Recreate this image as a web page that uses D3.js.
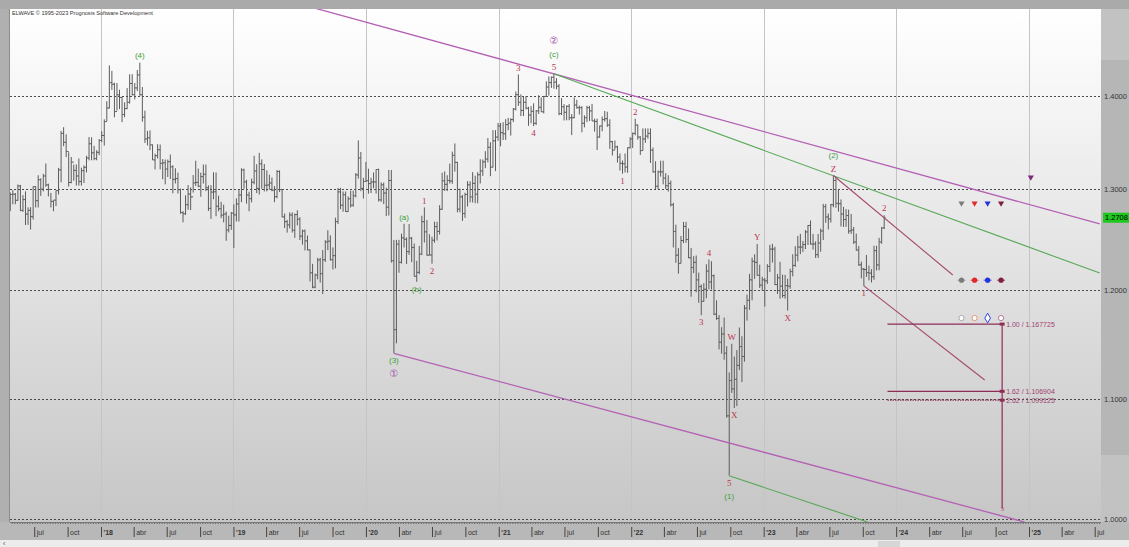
<!DOCTYPE html>
<html><head><meta charset="utf-8">
<script src="https://cdn.jsdelivr.net/npm/d3@7"></script>
<style>html,body{margin:0;padding:0;background:#e8e8e8;overflow:hidden}svg{display:block}</style>
</head><body>
<svg id="c" width="1129" height="547"></svg>
<script>
// ---------------- DATA (weekly GBP/USD bars: [high, low, close]) ----------------
const firstWeek = "2017-04-24";
const firstOpen = 1.2825;
const bars2017 = [
[1.2966,1.2775,1.2945],[1.2990,1.2844,1.2948],[1.2960,1.2845,1.2885],[1.3048,1.2880,1.3033],[1.3044,1.2774,1.2783],[1.2938,1.2767,1.2893],
[1.2977,1.2635,1.2745],[1.2813,1.2636,1.2783],[1.2815,1.2589,1.2719],[1.3029,1.2690,1.3026],
[1.3032,1.2812,1.2881],[1.3145,1.2812,1.3098],[1.3113,1.2931,1.3000],[1.3160,1.2977,1.3137],[1.3268,1.3025,1.3044],
[1.3057,1.2925,1.2997],[1.2961,1.2812,1.2875],[1.2883,1.2774,1.2887],[1.2985,1.2826,1.2985],
[1.3222,1.2945,1.3201],[1.3617,1.3071,1.3590],[1.3657,1.3452,1.3494],[1.3580,1.3336,1.3395],
[1.3387,1.3027,1.3069],[1.3337,1.3061,1.3283],[1.3257,1.3088,1.3196],[1.3258,1.3038,1.3137],[1.3321,1.3037,1.3080],
[1.3224,1.3037,1.3193],[1.3248,1.3064,1.3228],[1.3351,1.3174,1.3326],[1.3550,1.3301,1.3478],
[1.3548,1.3302,1.3381],[1.3456,1.3302,1.3320],[1.3409,1.3302,1.3387],[1.3529,1.3356,1.3513]
];
const bars2018 = [
[1.3613,1.3495,1.3567],[1.3743,1.3458,1.3718],[1.3943,1.3720,1.3867],[1.4345,1.3862,1.4150],[1.4283,1.4068,1.4132],
[1.4148,1.3765,1.3828],[1.4145,1.3838,1.4013],[1.4070,1.3855,1.3984],[1.3990,1.3712,1.3795],
[1.3930,1.3765,1.3860],[1.4088,1.3855,1.3930],[1.4244,1.3915,1.4140],[1.4245,1.4005,1.4015],
[1.4146,1.3962,1.4090],[1.4292,1.4055,1.4237],[1.4377,1.4003,1.4014],[1.4100,1.3716,1.3766],[1.3838,1.3487,1.3530],
[1.3617,1.3460,1.3543],[1.3622,1.3410,1.3466],[1.3471,1.3306,1.3306],[1.3372,1.3205,1.3351],
[1.3473,1.3321,1.3414],[1.3470,1.3206,1.3270],[1.3315,1.3102,1.3275],[1.3310,1.3050,1.3210],
[1.3310,1.3126,1.3287],[1.3363,1.3105,1.3233],[1.3250,1.2957,1.3102],[1.3218,1.3059,1.3110],[1.3172,1.2956,1.2995],
[1.3006,1.2749,1.2760],[1.2775,1.2662,1.2748],[1.2937,1.2737,1.2840],[1.3042,1.2789,1.2950],
[1.3018,1.2786,1.2920],[1.3147,1.2965,1.3065],[1.3298,1.3033,1.3070],[1.3214,1.3021,1.3030],
[1.3172,1.2922,1.3130],[1.3258,1.3058,1.3155],[1.3257,1.2980,1.3015],[1.3040,1.2776,1.2803],[1.3042,1.2696,1.2970],
[1.3176,1.2896,1.2973],[1.3174,1.2723,1.2825],[1.2932,1.2773,1.2799],[1.2869,1.2704,1.2734],
[1.2841,1.2660,1.2745],[1.2770,1.2477,1.2584],[1.2728,1.2560,1.2630],[1.2766,1.2585,1.2754],[1.2843,1.2405,1.2737]
];
const bars2019 = [
[1.2905,1.2670,1.2848],[1.3000,1.2670,1.2940],[1.3218,1.2866,1.3200],[1.3215,1.3005,1.3075],
[1.3097,1.2851,1.2940],[1.2974,1.2773,1.2902],[1.3110,1.2863,1.3072],[1.3350,1.3050,1.3190],
[1.3260,1.2960,1.3008],[1.3381,1.2944,1.3265],[1.3312,1.3003,1.3205],[1.3262,1.2977,1.3040],
[1.3196,1.2977,1.3043],[1.3150,1.2995,1.3064],[1.3121,1.2978,1.2990],[1.3032,1.2866,1.2922],[1.3200,1.2906,1.3183],
[1.3196,1.2970,1.2996],[1.3000,1.2712,1.2716],[1.2750,1.2605,1.2668],[1.2686,1.2558,1.2636],
[1.2762,1.2600,1.2735],[1.2763,1.2559,1.2582],[1.2750,1.2506,1.2740],[1.2784,1.2631,1.2693],
[1.2713,1.2485,1.2523],[1.2589,1.2439,1.2574],[1.2590,1.2382,1.2476],[1.2529,1.2383,1.2386],[1.2392,1.2080,1.2163],
[1.2250,1.2015,1.2025],[1.2155,1.2015,1.2142],[1.2309,1.2100,1.2288],[1.2310,1.2069,1.2155],
[1.2385,1.1959,1.2290],[1.2483,1.2269,1.2465],[1.2582,1.2384,1.2473],[1.2531,1.2283,1.2290],[1.2411,1.2195,1.2330],
[1.2708,1.2206,1.2669],[1.3013,1.2645,1.2972],[1.3013,1.2795,1.2835],[1.2977,1.2769,1.2942],
[1.2976,1.2768,1.2770],[1.2925,1.2768,1.2900],[1.2984,1.2811,1.2835],[1.2985,1.2820,1.2932],
[1.3168,1.2915,1.3148],[1.3514,1.3108,1.3327],[1.3390,1.2979,1.3008],[1.3118,1.2903,1.3080],[1.3285,1.3080,1.3087]
];
const bars2020 = [
[1.3213,1.2954,1.3058],[1.3119,1.2960,1.3074],[1.3174,1.3009,1.3075],[1.3207,1.2954,1.3205],
[1.3214,1.2873,1.2890],[1.3070,1.2870,1.3045],[1.3069,1.2847,1.2960],[1.3016,1.2725,1.2815],
[1.3200,1.2730,1.3090],[1.3200,1.2262,1.2280],[1.2485,1.1409,1.1625],[1.2486,1.1500,1.2444],[1.2486,1.2164,1.2265],
[1.2548,1.2253,1.2506],[1.2647,1.2411,1.2492],[1.2510,1.2248,1.2370],[1.2644,1.2338,1.2503],
[1.2515,1.2266,1.2410],[1.2450,1.2127,1.2130],[1.2280,1.2076,1.2168],[1.2426,1.2150,1.2346],
[1.2728,1.2336,1.2668],[1.2813,1.2460,1.2566],[1.2686,1.2330,1.2335],[1.2542,1.2335,1.2337],[1.2518,1.2252,1.2483],
[1.2669,1.2458,1.2618],[1.2667,1.2480,1.2570],[1.2835,1.2539,1.2794],[1.3171,1.2788,1.3087],
[1.3185,1.2981,1.3050],[1.3145,1.2980,1.3090],[1.3267,1.3058,1.3085],[1.3394,1.3056,1.3354],[1.3482,1.3183,1.3280],
[1.3286,1.2763,1.2795],[1.3007,1.2762,1.2920],[1.2941,1.2676,1.2750],[1.2963,1.2707,1.2945],
[1.3083,1.2822,1.3045],[1.3082,1.2864,1.2920],[1.3177,1.2863,1.3060],[1.3140,1.2855,1.2948],
[1.3177,1.2855,1.3150],[1.3313,1.3059,1.3190],[1.3310,1.3138,1.3285],[1.3399,1.3219,1.3315],[1.3539,1.3279,1.3440],
[1.3495,1.3135,1.3230],[1.3625,1.3226,1.3510],[1.3625,1.3188,1.3550],[1.3703,1.3510,1.3670]
];
const bars2021 = [
[1.3703,1.3451,1.3597],[1.3711,1.3518,1.3585],[1.3745,1.3520,1.3685],[1.3758,1.3624,1.3700],
[1.3755,1.3566,1.3740],[1.3867,1.3712,1.3855],[1.4050,1.3840,1.4015],[1.4241,1.3890,1.3930],
[1.4018,1.3778,1.3840],[1.3990,1.3778,1.3930],[1.4000,1.3851,1.3865],[1.3880,1.3672,1.3790],[1.3888,1.3700,1.3830],
[1.3919,1.3669,1.3700],[1.3845,1.3680,1.3835],[1.4009,1.3801,1.3875],[1.3984,1.3823,1.3825],
[1.4000,1.3807,1.3995],[1.4165,1.3990,1.4100],[1.4220,1.4005,1.4150],[1.4219,1.4090,1.4210],[1.4250,1.4082,1.4155],
[1.4200,1.4075,1.4110],[1.4134,1.3787,1.3805],[1.3976,1.3790,1.3880],[1.3910,1.3730,1.3820],
[1.3896,1.3732,1.3885],[1.3911,1.3733,1.3760],[1.3800,1.3572,1.3760],[1.3984,1.3755,1.3900],
[1.3958,1.3860,1.3870],[1.3895,1.3795,1.3870],[1.3888,1.3602,1.3700],[1.3787,1.3655,1.3760],[1.3892,1.3712,1.3870],
[1.3890,1.3725,1.3835],[1.3912,1.3725,1.3725],[1.3750,1.3609,1.3720],[1.3750,1.3411,1.3550],
[1.3674,1.3543,1.3670],[1.3773,1.3612,1.3740],[1.3834,1.3717,1.3750],[1.3826,1.3660,1.3680],
[1.3743,1.3424,1.3500],[1.3510,1.3353,1.3410],[1.3513,1.3415,1.3445],[1.3457,1.3278,1.3335],[1.3374,1.3194,1.3270],
[1.3300,1.3161,1.3265],[1.3375,1.3174,1.3230],[1.3439,1.3171,1.3435],[1.3548,1.3427,1.3530]
];
const bars2022 = [
[1.3599,1.3433,1.3590],[1.3749,1.3569,1.3680],[1.3686,1.3522,1.3550],[1.3560,1.3358,1.3405],[1.3644,1.3404,1.3530],
[1.3644,1.3488,1.3560],[1.3644,1.3532,1.3590],[1.3644,1.3274,1.3410],[1.3438,1.3173,1.3180],
[1.3292,1.3000,1.3030],[1.3195,1.3001,1.3180],[1.3298,1.3131,1.3180],[1.3298,1.3050,1.3115],
[1.3166,1.3001,1.3035],[1.3145,1.2975,1.3060],[1.3090,1.2821,1.2840],[1.2860,1.2411,1.2570],
[1.2638,1.2260,1.2335],[1.2405,1.2155,1.2255],[1.2525,1.2255,1.2480],[1.2666,1.2454,1.2620],[1.2666,1.2458,1.2490],
[1.2600,1.2305,1.2310],[1.2406,1.1934,1.2215],[1.2325,1.2160,1.2265],[1.2332,1.1976,1.2095],
[1.2165,1.1876,1.2030],[1.2050,1.1760,1.1890],[1.2063,1.1887,1.2005],[1.2246,1.1919,1.2180],
[1.2293,1.2004,1.2075],[1.2276,1.2003,1.2135],[1.2147,1.1760,1.1770],[1.1900,1.1717,1.1730],[1.1762,1.1444,1.1510],
[1.1648,1.1405,1.1585],[1.1738,1.1351,1.1410],[1.1474,1.0840,1.0855],[1.1237,1.0350,1.1165],
[1.1495,1.1055,1.1090],[1.1380,1.0924,1.1175],[1.1438,1.0940,1.1300],[1.1645,1.1257,1.1470],[1.1565,1.1151,1.1380],
[1.1855,1.1333,1.1825],[1.1954,1.1709,1.1900],[1.2153,1.1810,1.2095],[1.2311,1.1900,1.2275],
[1.2344,1.2105,1.2265],[1.2446,1.2135,1.2140],[1.2242,1.2018,1.2045],[1.2125,1.1990,1.2095]
];
const bars2023 = [
[1.2114,1.1841,1.2085],[1.2247,1.2056,1.2225],[1.2436,1.2170,1.2395],[1.2447,1.2263,1.2395],[1.2418,1.2045,1.2050],
[1.2152,1.1960,1.2115],[1.2270,1.1915,1.2035],[1.2146,1.1925,1.1945],[1.2143,1.1915,1.2040],
[1.2106,1.1803,1.2035],[1.2203,1.2010,1.2175],[1.2344,1.2129,1.2235],[1.2424,1.2220,1.2335],
[1.2525,1.2275,1.2415],[1.2546,1.2345,1.2415],[1.2475,1.2367,1.2440],[1.2584,1.2395,1.2565],
[1.2635,1.2435,1.2630],[1.2680,1.2440,1.2445],[1.2545,1.2390,1.2445],[1.2472,1.2308,1.2340],[1.2545,1.2308,1.2455],
[1.2599,1.2369,1.2575],[1.2848,1.2485,1.2820],[1.2848,1.2657,1.2715],[1.2750,1.2590,1.2695],
[1.2849,1.2658,1.2840],[1.3142,1.2814,1.3090],[1.3125,1.2809,1.2855],[1.3000,1.2770,1.2850],[1.2894,1.2620,1.2745],
[1.2818,1.2615,1.2690],[1.2795,1.2616,1.2730],[1.2790,1.2548,1.2575],[1.2746,1.2545,1.2585],
[1.2615,1.2446,1.2465],[1.2548,1.2379,1.2385],[1.2425,1.2231,1.2240],[1.2271,1.2110,1.2200],
[1.2210,1.2037,1.2195],[1.2337,1.2123,1.2165],[1.2233,1.2090,1.2160],[1.2199,1.2070,1.2125],[1.2428,1.2096,1.2380],
[1.2428,1.2187,1.2240],[1.2506,1.2188,1.2465],[1.2614,1.2447,1.2605],[1.2733,1.2594,1.2708]
];

const priceTicks = [1.0, 1.1, 1.2, 1.3, 1.4];
const lastPrice = 1.2708;
const monthTickNames = {3: "abr", 6: "jul", 9: "oct"};
const copyrightText = "ELWAVE \u00A9 1995-2023 Prognosis Software Development";

// wave labels: anchored at a bar's high (above) or low (below); level = stacking order
const waveLabels = [
  {text:"(4)", week:"2018-04-16", price:1.4377, side:"above", level:1, kind:"green"},
  {text:"(3)", week:"2020-03-16", price:1.1409, side:"below", level:1, kind:"green"},
  {text:"\u2460", week:"2020-03-16", price:1.1409, side:"below", level:2, kind:"purple"},
  {text:"(a)", week:"2020-04-13", price:1.2647, side:"above", level:1, kind:"green"},
  {text:"(b)", week:"2020-05-18", price:1.2076, side:"below", level:1, kind:"green"},
  {text:"1", week:"2020-06-08", price:1.2813, side:"above", level:1, kind:"red"},
  {text:"2", week:"2020-06-29", price:1.2252, side:"below", level:1, kind:"red"},
  {text:"3", week:"2021-02-22", price:1.4241, side:"above", level:1, kind:"red"},
  {text:"4", week:"2021-04-05", price:1.3669, side:"below", level:1, kind:"red"},
  {text:"5", week:"2021-05-31", price:1.4250, side:"above", level:1, kind:"red"},
  {text:"(c)", week:"2021-05-31", price:1.4250, side:"above", level:2, kind:"green"},
  {text:"\u2461", week:"2021-05-31", price:1.4250, side:"above", level:3, kind:"purple"},
  {text:"1", week:"2021-12-06", price:1.3161, side:"below", level:1, kind:"red"},
  {text:"2", week:"2022-01-10", price:1.3749, side:"above", level:1, kind:"red"},
  {text:"3", week:"2022-07-11", price:1.1760, side:"below", level:1, kind:"red"},
  {text:"4", week:"2022-08-01", price:1.2293, side:"above", level:1, kind:"red"},
  {text:"5", week:"2022-09-26", price:1.0350, side:"below", level:1, kind:"red"},
  {text:"(1)", week:"2022-09-26", price:1.0350, side:"below", level:2, kind:"green"},
  {text:"W", week:"2022-10-03", price:1.1495, side:"above", level:1, kind:"red"},
  {text:"X", week:"2022-10-10", price:1.0924, side:"below", level:1, kind:"red"},
  {text:"Y", week:"2022-12-12", price:1.2446, side:"above", level:1, kind:"red"},
  {text:"X", week:"2023-03-06", price:1.1803, side:"below", level:1, kind:"red"},
  {text:"Z", week:"2023-07-10", price:1.3142, side:"above", level:1, kind:"red"},
  {text:"(2)", week:"2023-07-10", price:1.3142, side:"above", level:2, kind:"green"},
  {text:"1", week:"2023-10-02", price:1.2037, side:"below", level:1, kind:"red"},
  {text:"2", week:"2023-11-27", price:1.2733, side:"above", level:1, kind:"red"}
];

// trend / channel lines: two [date, price] points each
const trendLines = [
  {kind:"purple", pts:[["2019-08-12",1.5015],["2025-07-15",1.2645]]},
  {kind:"purple", pts:[["2020-03-18",1.1409],["2024-12-20",0.9976]]},
  {kind:"green",  pts:[["2021-06-02",1.4250],["2025-07-15",1.2161]]},
  {kind:"green",  pts:[["2022-09-28",1.0350],["2023-10-14",0.9976]]},
  {kind:"mauve",  pts:[["2023-07-12",1.3142],["2024-06-05",1.2142]]},
  {kind:"mauve",  pts:[["2023-10-04",1.2037],["2024-09-01",1.1169]]}
];

// Fibonacci projection of wave 3
const fibRatios = ["1.00", "1.62", "2.62"];
const fibPrices = [1.167725, 1.106904, 1.099125];
const fibFrom = "2023-12-08", fibTo = "2024-10-19";
const fibBottomPrice = 1.0085;

// target markers
const targetDates = ["2024-06-29", "2024-08-04", "2024-09-09", "2024-10-16"];
const targetRowPrices = [1.2855, 1.2092, 1.1733];
const extraTarget = {date:"2025-01-06", price:1.3124};

// ---------------- DRAWING ----------------
const W = 1129, H = 547;
const P = {l:10, r:1101, t:9, b:522};
const parse = d3.timeParse("%Y-%m-%d");
const svg = d3.select("#c");

const x = d3.scaleTime().domain([new Date(2018,0,1), new Date(2025,0,1)]).range([101, 1029]);
const y = d3.scaleLog().domain([1.0, 1.4]).range([519, 96]);
const tStart = x.invert(P.l), tEnd = x.invert(P.r);

const allHLC = [].concat(bars2017, bars2018, bars2019, bars2020, bars2021, bars2022, bars2023);
const start = parse(firstWeek);
const bars = allHLC.map((b, i) => ({
  date: d3.timeDay.offset(start, 7*i + 2),
  high: b[0], low: b[1], close: b[2],
  open: i === 0 ? firstOpen : allHLC[i-1][2]
}));
const barX = s => x(d3.timeDay.offset(parse(s), 2));

const defs = svg.append("defs");
const grad = defs.append("linearGradient").attr("id","bg").attr("x1",0).attr("y1",0).attr("x2",0).attr("y2",1);
grad.append("stop").attr("offset","0%").attr("stop-color","#ffffff");
grad.append("stop").attr("offset","100%").attr("stop-color","#c6c6c6");
defs.append("clipPath").attr("id","clip").append("rect")
  .attr("x",P.l).attr("y",P.t).attr("width",P.r-P.l).attr("height",P.b-P.t);

// frame
svg.append("rect").attr("width",W).attr("height",H).attr("fill","#b4b4b4");
svg.append("rect").attr("x",0).attr("y",0).attr("width",W).attr("height",P.t).attr("fill","#aaaaaa");
svg.append("rect").attr("x",0).attr("y",P.t).attr("width",P.l).attr("height",P.b-P.t).attr("fill","#b0b0b0");
svg.append("line").attr("x1",P.l-0.5).attr("x2",P.l-0.5).attr("y1",P.t).attr("y2",P.b).attr("stroke","#8c8c8c");
svg.append("rect").attr("x",P.l).attr("y",P.t).attr("width",P.r-P.l).attr("height",P.b-P.t).attr("fill","url(#bg)");
// right price panel
svg.append("rect").attr("x",P.r).attr("y",P.t).attr("width",W-P.r).attr("height",P.b-P.t).attr("fill","#b6b6b6");
svg.append("rect").attr("x",P.r).attr("y",P.t).attr("width",W-P.r).attr("height",51).attr("fill","#c2c2c2");
svg.append("rect").attr("x",P.r).attr("y",455).attr("width",W-P.r).attr("height",P.b-455).attr("fill","#c2c2c2");
// bottom axis band + status strip
svg.append("rect").attr("x",0).attr("y",P.b).attr("width",W).attr("height",540-P.b).attr("fill","#b8b8b8");
svg.append("rect").attr("x",0).attr("y",540).attr("width",W).attr("height",7).attr("fill","#ececec");
svg.append("rect").attr("x",878).attr("y",541).attr("width",22).attr("height",6).attr("fill","#d6d6d6");
svg.append("text").attr("x",3).attr("y",546).attr("font-size",7).attr("fill","#555")
  .attr("font-family","Liberation Sans, Arial, sans-serif").text("\u2039");

const plotG = svg.append("g").attr("clip-path","url(#clip)");

// vertical year lines
const years = d3.timeYear.range(tStart, tEnd);
plotG.selectAll("line.vy").data(years).join("line")
  .attr("x1",d=>Math.round(x(d))+0.5).attr("x2",d=>Math.round(x(d))+0.5)
  .attr("y1",P.t).attr("y2",P.b).attr("stroke","#c4c4c4").attr("stroke-width",1);

// horizontal price grid (dotted)
plotG.selectAll("line.hg").data(priceTicks).join("line")
  .attr("x1",P.l).attr("x2",P.r)
  .attr("y1",d=>Math.round(y(d))+0.5).attr("y2",d=>Math.round(y(d))+0.5)
  .attr("stroke","#4a4a4a").attr("stroke-width",1).attr("stroke-dasharray","2,2");

// OHLC bars
plotG.append("g").selectAll("path").data(bars).join("path")
  .attr("d", d => {
    const cx = x(d.date);
    return `M${cx},${y(d.high)}V${y(d.low)}M${cx-1.4},${y(d.open)}H${cx}M${cx},${y(d.close)}H${cx+1.4}`;
  })
  .attr("fill","none").attr("stroke","#5c5c5c").attr("stroke-width",1);

// trend lines
const lineColors = {purple:"#b462b4", green:"#58a858", mauve:"#a54a70"};
const lineGen = d3.line().x(p => x(parse(p[0]))).y(p => y(p[1]));
plotG.selectAll("path.tl").data(trendLines).join("path")
  .attr("d", d => lineGen(d.pts))
  .attr("fill","none").attr("stroke", d => lineColors[d.kind])
  .attr("stroke-width", d => d.kind === "purple" ? 1.3 : 1.1);

// fib projection
const fibColor = "#8e2c55";
const fx1 = x(parse(fibFrom)), fx2 = x(parse(fibTo));
plotG.selectAll("line.fib").data(fibPrices).join("line")
  .attr("x1",fx1).attr("x2",fx2).attr("y1",d=>y(d)).attr("y2",d=>y(d))
  .attr("stroke",fibColor).attr("stroke-width",1.2)
  .attr("stroke-dasharray",(d,i)=> i===2 ? "1.5,1" : null);
plotG.append("line").attr("x1",fx2).attr("x2",fx2)
  .attr("y1",y(fibPrices[0])).attr("y2",y(fibBottomPrice))
  .attr("stroke",fibColor).attr("stroke-width",1.2);
plotG.selectAll("rect.fibm").data(fibPrices).join("rect")
  .attr("x",fx2-2.5).attr("y",d=>y(d)-1.5).attr("width",5).attr("height",3).attr("fill",fibColor);
plotG.selectAll("text.fibt").data(fibPrices).join("text")
  .attr("x",fx2+4).attr("y",d=>y(d)).attr("dy","0.35em")
  .attr("font-size",7).attr("font-family","Liberation Sans, Arial, sans-serif").attr("fill","#a0446c")
  .text((d,i)=> `${fibRatios[i]} / ${d3.format(".6f")(d)}`);
plotG.append("text").attr("x",fx2).attr("y",y(fibBottomPrice)).attr("dy","0.35em")
  .attr("text-anchor","middle").attr("font-size",7).attr("font-family","Liberation Serif, serif")
  .attr("fill","#c0405a").text("3");

// target markers
const tColors = ["#7c7c7c","#e02a2a","#2233dd","#7d1f45"];
const hollowStroke = ["#a8a8a8","#e8907a","#3344dd","#b47c98"];
const tri = d3.symbol().type(d3.symbolTriangle).size(16);
targetDates.forEach((ds, i) => {
  const tx = x(parse(ds));
  plotG.append("path").attr("d", tri())
    .attr("transform", `translate(${tx},${y(targetRowPrices[0])}) rotate(180)`).attr("fill", tColors[i]);
  plotG.append("circle").attr("cx",tx).attr("cy",y(targetRowPrices[1])).attr("r",2.6).attr("fill",tColors[i]);
  plotG.append("line").attr("x1",tx-4).attr("x2",tx+4).attr("y1",y(targetRowPrices[1])).attr("y2",y(targetRowPrices[1]))
    .attr("stroke",tColors[i]).attr("stroke-width",0.8);
  if (i === 2) {
    plotG.append("path").attr("d", d3.symbol().type(d3.symbolDiamond).size(28)())
      .attr("transform", `translate(${tx},${y(targetRowPrices[2])})`)
      .attr("fill","#ffffff").attr("stroke",hollowStroke[i]).attr("stroke-width",1);
  } else {
    plotG.append("circle").attr("cx",tx).attr("cy",y(targetRowPrices[2])).attr("r",2.6)
      .attr("fill","#ffffff").attr("stroke",hollowStroke[i]).attr("stroke-width",1);
  }
});
plotG.append("path").attr("d", tri())
  .attr("transform", `translate(${x(parse(extraTarget.date))},${y(extraTarget.price)}) rotate(180)`)
  .attr("fill","#7a2a7a");

// wave labels
const labelStyle = {
  red:    {fill:"#b8364e", size:9, font:"Liberation Serif, Times New Roman, serif"},
  green:  {fill:"#3c9e3c", size:8, font:"Liberation Sans, Arial, sans-serif"},
  purple: {fill:"#a24fa8", size:10, font:"DejaVu Sans, sans-serif"}
};
plotG.selectAll("text.wl").data(waveLabels).join("text")
  .attr("x", d => barX(d.week))
  .attr("y", d => {
    const off = 7 + 13*(d.level-1);
    return d.side === "above" ? y(d.price) - off : y(d.price) + off;
  })
  .attr("dy","0.35em").attr("text-anchor","middle")
  .attr("fill", d => labelStyle[d.kind].fill)
  .attr("font-size", d => labelStyle[d.kind].size)
  .attr("font-family", d => labelStyle[d.kind].font)
  .text(d => d.text);

// copyright
svg.append("text").attr("x",12).attr("y",15).attr("font-size",5.6).attr("fill","#333")
  .attr("font-family","Liberation Sans, Arial, sans-serif").text(copyrightText);

// right price axis
const yAxis = d3.axisRight(y).tickValues(priceTicks).tickFormat(d3.format(".4f")).tickSize(0).tickPadding(3);
const ya = svg.append("g").attr("transform",`translate(${P.r},0)`).call(yAxis);
ya.select(".domain").remove();
ya.selectAll("text").attr("font-size",7.5).attr("fill","#333").attr("font-family","Liberation Sans, Arial, sans-serif");

// last price box
svg.append("rect").attr("x",P.r+2).attr("y",y(lastPrice)-5).attr("width",W-P.r-2).attr("height",10).attr("fill","#1ec81e");
svg.append("text").attr("x",P.r+4).attr("y",y(lastPrice)).attr("dy","0.35em").attr("font-size",7.5)
  .attr("fill","#000").attr("font-family","Liberation Sans, Arial, sans-serif").text(d3.format(".4f")(lastPrice));

// bottom time axis: weekly minor ticks
const xMinor = d3.axisBottom(x).tickValues(d3.timeWeek.range(tStart, tEnd)).tickSize(2).tickFormat("");
const xm = svg.append("g").attr("transform",`translate(0,${P.b})`).call(xMinor);
xm.select(".domain").remove();
xm.append("line").attr("x1",P.l).attr("x2",P.r).attr("y1",0.5).attr("y2",0.5).attr("stroke","#777");
xm.selectAll(".tick line").attr("stroke","#666");

// quarterly labelled ticks
const qFmt = d => d.getMonth() === 0 ? "'" + d3.timeFormat("%y")(d) : monthTickNames[d.getMonth()];
const quarters = d3.timeMonth.every(3).range(tStart, d3.timeDay.offset(tEnd, -3));
const xAxis = d3.axisBottom(x).tickValues(quarters).tickFormat(qFmt).tickSize(15).tickPadding(0);
const xa = svg.append("g").attr("transform",`translate(0,${P.b})`).call(xAxis);
xa.select(".domain").remove();
xa.selectAll(".tick line").attr("stroke","#444").attr("y1",5);
xa.selectAll(".tick text").attr("text-anchor","start").attr("x",2).attr("y",8).attr("dy","0.71em")
  .attr("font-size",7).attr("fill","#333").attr("font-family","Liberation Sans, Arial, sans-serif")
  .attr("font-weight", d => d.getMonth() === 0 ? "bold" : null);
</script>
</body></html>
